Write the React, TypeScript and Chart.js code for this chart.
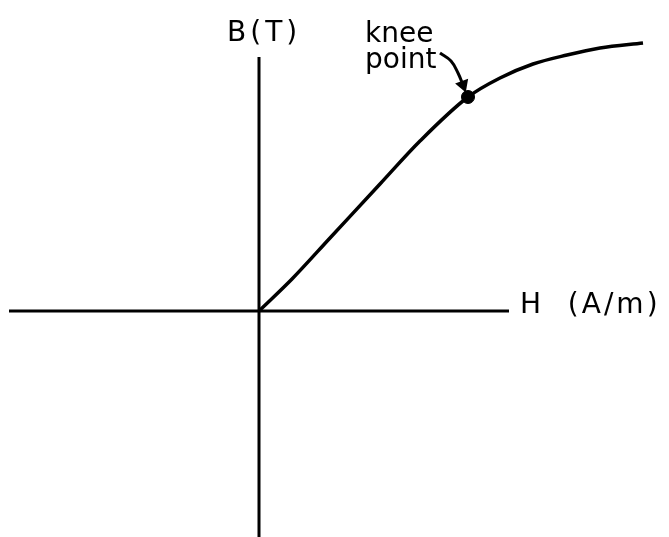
import React, { useEffect, useRef } from "react";
import { Chart, registerables } from "chart.js";

Chart.register(...registerables);

// Magnetisation curve B(H) of a ferromagnetic core
const hValues = [0, 165, 355, 605, 805, 1045, 1205, 1370, 1540, 1705, 1920];
const bValues = [0, 0.16, 0.365, 0.635, 0.85, 1.07, 1.165, 1.235, 1.28, 1.315, 1.34];

// Knee point on the curve
const kneeH = 1045;
const kneeB = 1.07;

// Axis extents (in data units)
const hAxisFrom = -1250;
const hAxisTo = 1250;
const bAxisFrom = -1.13;
const bAxisTo = 1.27;

// Curved pointer from the "knee point" caption to the knee
const pointerH = [905, 960, 995, 1020];
const pointerB = [1.29, 1.25, 1.19, 1.13];

// Text labels, anchored (left, baseline) in data units
const labelTexts = ["B(T)", "knee", "point", "H  (A/m)"];
const labelH = [-160, 530, 530, 1305];
const labelB = [1.35, 1.345, 1.215, -0.01];
const labelSpacing = [4, 0, 0, 3];

const W = 669;
const H = 537;

const textPlugin = {
  id: "axisText",
  afterDatasetsDraw(chart: any) {
    const { ctx, scales } = chart;
    ctx.save();
    ctx.fillStyle = "#000";
    ctx.font = "400 28px 'DejaVu Sans'";
    ctx.textBaseline = "alphabetic";
    ctx.textAlign = "left";
    labelTexts.forEach((t, i) => {
      (ctx as any).letterSpacing = labelSpacing[i] + "px";
      ctx.fillText(t, scales.x.getPixelForValue(labelH[i]), scales.y.getPixelForValue(labelB[i]));
    });
    ctx.restore();
  },
};

export default function App() {
  const ref = useRef<HTMLCanvasElement | null>(null);

  useEffect(() => {
    if (!ref.current) return;
    const curve = hValues.map((h, i) => ({ x: h, y: bValues[i] }));
    const pointer = pointerH.map((h, i) => ({ x: h, y: pointerB[i] }));
    const chart = new Chart(ref.current, {
      type: "scatter",
      data: {
        datasets: [
          {
            data: [{ x: hAxisFrom, y: 0 }, { x: hAxisTo, y: 0 }],
            showLine: true,
            borderColor: "#000",
            borderWidth: 3,
            pointRadius: 0,
          },
          {
            data: [{ x: 0, y: bAxisFrom }, { x: 0, y: bAxisTo }],
            showLine: true,
            borderColor: "#000",
            borderWidth: 3,
            pointRadius: 0,
          },
          {
            data: curve,
            showLine: true,
            borderColor: "#000",
            borderWidth: 3.5,
            pointRadius: 0,
            cubicInterpolationMode: "monotone",
          },
          {
            data: [{ x: kneeH, y: kneeB }],
            pointRadius: 6.5,
            backgroundColor: "#000",
            borderColor: "#000",
          },
          {
            data: pointer,
            showLine: true,
            borderColor: "#000",
            borderWidth: 3,
            tension: 0.4,
            pointRadius: [0, 0, 0, 5],
            pointStyle: "triangle",
            rotation: 160,
            backgroundColor: "#000",
            borderJoinStyle: "round",
          },
        ],
      },
      options: {
        responsive: false,
        animation: false,
        layout: { padding: 0, autoPadding: false },
        plugins: { legend: { display: false }, tooltip: { enabled: false } },
        scales: {
          x: { type: "linear", min: -1295, max: 2050, display: false },
          y: { type: "linear", min: -1.13, max: 1.555, display: false },
        },
      },
      plugins: [textPlugin],
    });
    return () => chart.destroy();
  }, []);

  return (
    <div style={{ position: "absolute", left: 0, top: 0, width: W, height: H, background: "#fff" }}>
      <canvas ref={ref} width={W} height={H} style={{ display: "block" }} />
    </div>
  );
}
